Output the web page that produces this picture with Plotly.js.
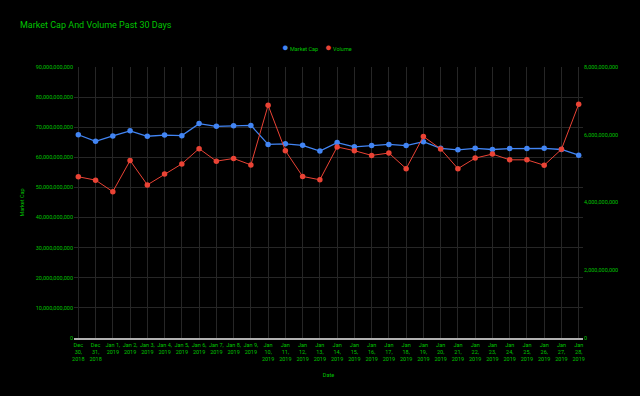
<!DOCTYPE html>
<html>
<head>
<meta charset="utf-8">
<script src="https://cdn.plot.ly/plotly-3.0.1.min.js"></script>
<style>
html,body{margin:0;padding:0;background:#000;}
#chart{width:640px;height:396px;}
</style>
</head>
<body>
<div id="chart"></div>
<script>
var categories = ["Dec 30, 2018","Dec 31, 2018","Jan 1, 2019","Jan 2, 2019","Jan 3, 2019","Jan 4, 2019","Jan 5, 2019","Jan 6, 2019","Jan 7, 2019","Jan 8, 2019","Jan 9, 2019","Jan 10, 2019","Jan 11, 2019","Jan 12, 2019","Jan 13, 2019","Jan 14, 2019","Jan 15, 2019","Jan 16, 2019","Jan 17, 2019","Jan 18, 2019","Jan 19, 2019","Jan 20, 2019","Jan 21, 2019","Jan 22, 2019","Jan 23, 2019","Jan 24, 2019","Jan 25, 2019","Jan 26, 2019","Jan 27, 2019","Jan 28, 2019"];
var tickLabels = ["Dec<br>30,<br>2018","Dec<br>31,<br>2018","Jan 1,<br>2019","Jan 2,<br>2019","Jan 3,<br>2019","Jan 4,<br>2019","Jan 5,<br>2019","Jan 6,<br>2019","Jan 7,<br>2019","Jan 8,<br>2019","Jan 9,<br>2019","Jan<br>10,<br>2019","Jan<br>11,<br>2019","Jan<br>12,<br>2019","Jan<br>13,<br>2019","Jan<br>14,<br>2019","Jan<br>15,<br>2019","Jan<br>16,<br>2019","Jan<br>17,<br>2019","Jan<br>18,<br>2019","Jan<br>19,<br>2019","Jan<br>20,<br>2019","Jan<br>21,<br>2019","Jan<br>22,<br>2019","Jan<br>23,<br>2019","Jan<br>24,<br>2019","Jan<br>25,<br>2019","Jan<br>26,<br>2019","Jan<br>27,<br>2019","Jan<br>28,<br>2019"];
var seriesNames = ["Market Cap", "Volume"];
var seriesColors = ["#4285f4", "#ea4335"];
var marketCap = [67.5e9,65.3e9,67.1e9,68.8e9,67.0e9,67.4e9,67.2e9,71.2e9,70.3e9,70.5e9,70.6e9,64.3e9,64.5e9,64.0e9,62.1e9,64.9e9,63.5e9,63.9e9,64.3e9,63.9e9,65.2e9,63.0e9,62.5e9,63.0e9,62.6e9,62.9e9,62.9e9,63.0e9,62.6e9,60.7e9];
var volume = [4.76e9,4.66e9,4.32e9,5.24e9,4.52e9,4.84e9,5.14e9,5.59e9,5.22e9,5.30e9,5.11e9,6.87e9,5.53e9,4.77e9,4.67e9,5.64e9,5.53e9,5.39e9,5.46e9,5.00e9,5.95e9,5.58e9,5.00e9,5.31e9,5.43e9,5.26e9,5.26e9,5.10e9,5.57e9,6.90e9];

var GREEN = '#00c400';
var FONT = 'Roboto, Arial, sans-serif';

var traces = [
  {
    x: categories, y: marketCap, name: seriesNames[0], type: 'scatter', mode: 'lines+markers',
    line: {color: seriesColors[0], width: 1.3},
    marker: {color: seriesColors[0], size: 5.5},
    yaxis: 'y', showlegend: false
  },
  {
    x: categories, y: volume, name: seriesNames[1], type: 'scatter', mode: 'lines+markers',
    line: {color: seriesColors[1], width: 1},
    marker: {color: seriesColors[1], size: 5.5},
    yaxis: 'y2', showlegend: false
  }
];

var legendText = seriesNames.map(function (n, i) {
  return '<span style="color:' + seriesColors[i] + ';font-size:11px">\u25CF</span> ' + n;
}).join('&nbsp;&nbsp;&nbsp;&nbsp;&nbsp;');

var layout = {
  width: 640, height: 396,
  paper_bgcolor: '#000', plot_bgcolor: '#000',
  margin: {l: 74, r: 57, t: 66.5, b: 58, pad: 0},
  font: {family: FONT, color: GREEN, size: 5.5},
  title: {
    text: 'Market Cap And Volume Past 30 Days',
    font: {family: FONT, size: 9, color: GREEN},
    x: 20/640, xanchor: 'left', xref: 'container',
    y: 1 - 25/396, yanchor: 'middle', yref: 'container'
  },
  showlegend: false,
  annotations: [{
    text: legendText, showarrow: false,
    xref: 'paper', yref: 'paper', x: 0.477, y: 1.073,
    xanchor: 'center', yanchor: 'middle',
    font: {family: FONT, size: 5.5, color: GREEN}
  }],
  xaxis: {
    type: 'category', range: [-0.25, 29.25],
    tickmode: 'array', tickvals: categories, ticktext: tickLabels,
    tickfont: {family: FONT, size: 5.5, color: GREEN},
    color: '#a0a0a0',
    showgrid: true, gridcolor: '#262626', gridwidth: 1,
    showline: true, linecolor: '#b0b0b0', linewidth: 2,
    zeroline: false, ticks: '', tickangle: 0,
    title: {text: 'Date', font: {family: FONT, size: 5.5, color: GREEN}, standoff: 12}
  },
  yaxis: {
    range: [0, 90e9], dtick: 10e9, tick0: 0, tickformat: ',.0f',
    tickfont: {family: FONT, size: 5.5, color: GREEN},
    showgrid: true, gridcolor: '#262626', gridwidth: 1,
    zeroline: false, showline: false,
    ticks: '',
    title: {text: 'Market Cap', font: {family: FONT, size: 5.5, color: GREEN}, standoff: 10}
  },
  yaxis2: {
    overlaying: 'y', side: 'right',
    range: [0, 8e9], dtick: 2e9, tick0: 0, tickformat: ',.0f',
    tickfont: {family: FONT, size: 5.5, color: GREEN},
    showgrid: false, zeroline: false, showline: false, ticks: ''
  }
};

Plotly.newPlot('chart', traces, layout, {displayModeBar: false, staticPlot: true});
</script>
</body>
</html>
